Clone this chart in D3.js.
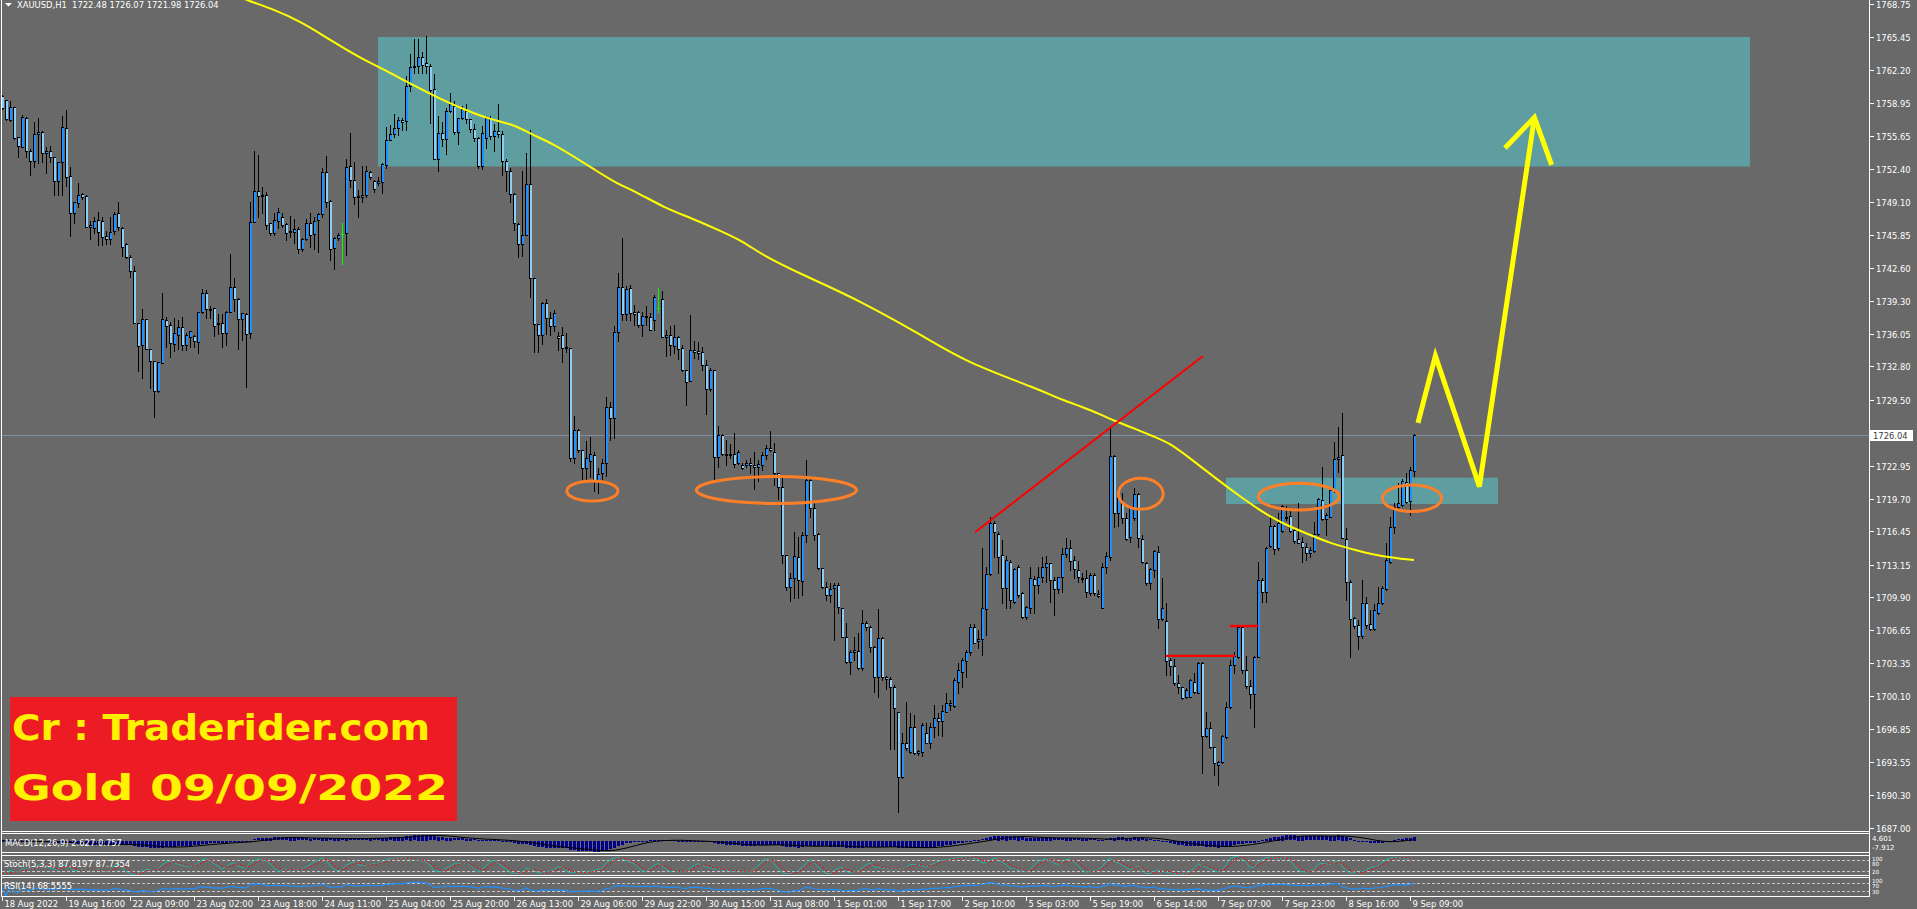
<!DOCTYPE html>
<html><head><meta charset="utf-8">
<script src="https://cdn.jsdelivr.net/npm/d3@7"></script>
<style>
html,body{margin:0;padding:0;background:#696969;overflow:hidden}
svg{display:block}
text{font-family:"DejaVu Sans",sans-serif}
</style></head><body>
<svg id="c" width="1917" height="909"></svg>
<script>
// ---------------- DATA (XAUUSD H1) ----------------
const open = [
1759.63,1759.23,1757.25,1758.54,1755.53,1754.54,1757.45,1754.21,1753.15,1755.86,
1756.06,1753.94,1754.18,1753.55,1751.23,1753.05,1756.42,1751.70,1748.06,1749.05,
1749.88,1749.71,1746.60,1746.51,1747.30,1747.20,1745.75,1745.42,1746.21,1747.99,
1746.54,1744.95,1743.63,1742.24,1737.08,1734.97,1737.48,1734.51,1733.32,1730.41,
1733.18,1737.42,1736.92,1735.03,1735.89,1736.69,1734.90,1735.76,1735.83,1735.27,
1738.18,1740.06,1738.47,1738.61,1736.98,1737.15,1736.16,1738.24,1740.65,1739.46,
1737.48,1737.98,1736.09,1747.17,1750.24,1749.78,1749.78,1747.00,1746.01,1747.20,
1747.60,1746.94,1746.11,1746.18,1746.41,1744.42,1745.48,1747.03,1745.91,1747.33,
1747.93,1752.06,1749.22,1744.52,1745.51,1745.94,1746.01,1752.65,1751.27,1749.61,
1749.58,1749.78,1752.09,1751.20,1751.03,1751.10,1752.75,1755.27,1755.86,1756.42,
1757.24,1757.10,1760.58,1762.46,1762.56,1763.49,1762.85,1762.56,1760.29,1753.42,
1756.00,1755.33,1758.17,1758.66,1756.04,1757.46,1758.17,1757.31,1756.39,1755.47,
1752.71,1755.47,1757.46,1755.68,1756.11,1755.90,1753.13,1752.21,1749.87,1746.89,
1744.97,1745.89,1750.93,1741.57,1737.03,1735.97,1739.12,1737.56,1736.82,1735.82,
1735.97,1734.62,1734.62,1723.70,1726.54,1724.48,1722.78,1723.45,1724.05,1721.43,
1722.21,1723.20,1728.74,1727.71,1736.22,1740.65,1737.99,1740.58,1738.17,1738.24,
1736.93,1737.81,1737.74,1737.46,1738.63,1739.51,1735.68,1735.97,1734.80,1735.68,
1734.62,1732.49,1731.36,1734.44,1734.37,1734.20,1732.92,1730.54,1732.42,1723.81,
1726.04,1724.16,1724.05,1724.16,1723.20,1722.99,1722.99,1723.27,1722.99,1722.85,
1722.99,1723.98,1724.76,1724.34,1722.21,1720.88,1714.11,1710.97,1711.79,1713.88,
1711.56,1716.09,1721.55,1718.74,1716.19,1712.79,1710.97,1710.14,1710.80,1711.13,
1708.82,1705.94,1703.53,1704.52,1704.62,1702.87,1707.40,1706.94,1705.02,1702.04,
1705.84,1701.98,1701.78,1700.98,1698.50,1692.05,1695.43,1694.60,1697.08,1694.50,
1694.60,1696.42,1695.50,1697.08,1697.91,1697.68,1698.57,1699.23,1699.13,1701.55,
1702.54,1703.63,1704.52,1706.94,1705.61,1705.74,1708.72,1712.22,1717.31,1716.19,
1714.11,1710.80,1713.45,1709.48,1712.95,1710.31,1707.93,1708.82,1711.69,1711.13,
1711.96,1712.88,1713.28,1711.63,1710.70,1711.96,1714.21,1714.77,1713.61,1712.62,
1711.79,1711.79,1710.37,1712.12,1710.24,1708.82,1712.88,1713.88,1723.93,1718.31,
1719.23,1717.74,1715.93,1717.74,1720.12,1715.66,1713.35,1711.30,1712.62,1714.44,
1707.73,1707.60,1703.69,1703.10,1701.38,1700.98,1700.06,1700.06,1701.55,1700.45,
1703.43,1696.15,1696.91,1695.10,1693.31,1693.59,1696.02,1699.00,1703.17,1704.02,
1707.00,1702.70,1701.11,1700.32,1704.02,1711.62,1710.47,1715.00,1716.98,1714.77,
1716.52,1717.90,1717.97,1716.58,1715.66,1715.43,1714.93,1714.34,1714.54,1716.19,
1719.56,1717.64,1717.90,1720.55,1723.59,1724.02,1715.66,1711.46,1707.82,1707.16,
1706.07,1709.31,1707.26,1706.73,1708.32,1709.31,1710.70,1713.44,1716.85,1718.90,
1719.06,1721.38,1719.49,1722.48];
const high = [
1759.73,1759.23,1759.17,1758.57,1755.53,1757.75,1757.51,1754.34,1757.08,1757.41,
1756.16,1754.54,1754.67,1753.55,1753.05,1757.65,1758.24,1752.56,1749.08,1750.97,
1750.04,1749.81,1747.27,1747.60,1748.09,1747.66,1746.21,1747.60,1748.16,1749.08,
1746.60,1745.08,1743.86,1742.77,1737.08,1738.54,1737.48,1734.51,1733.32,1733.25,
1740.06,1737.75,1737.25,1737.58,1737.42,1737.75,1736.09,1736.36,1735.89,1738.18,
1740.52,1740.39,1738.84,1738.61,1738.01,1738.01,1738.34,1743.93,1741.55,1739.56,
1738.08,1738.08,1749.08,1754.21,1753.78,1750.60,1750.14,1747.07,1747.99,1748.52,
1747.99,1747.00,1747.73,1747.40,1746.60,1745.51,1747.46,1747.99,1747.66,1748.06,
1752.46,1753.65,1749.32,1745.61,1746.01,1747.00,1753.35,1756.00,1753.08,1750.31,
1752.69,1752.69,1752.16,1751.30,1751.56,1752.95,1756.59,1756.75,1757.80,1757.58,
1757.46,1761.57,1763.77,1765.26,1765.26,1763.98,1765.61,1762.77,1761.78,1757.67,
1757.03,1758.45,1759.94,1759.09,1757.46,1758.66,1758.88,1757.31,1756.89,1755.54,
1756.68,1757.67,1757.67,1756.89,1758.80,1756.11,1753.34,1752.50,1750.01,1747.03,
1752.14,1753.95,1756.25,1741.57,1737.03,1739.23,1739.51,1738.24,1738.45,1736.22,
1736.75,1736.11,1734.62,1727.88,1726.64,1724.48,1725.40,1725.83,1724.34,1722.74,
1723.63,1729.73,1729.30,1736.82,1742.07,1745.54,1740.79,1740.93,1738.88,1738.31,
1738.17,1738.81,1738.10,1739.87,1740.58,1740.29,1736.46,1736.82,1736.96,1735.82,
1734.98,1732.49,1737.88,1735.33,1735.18,1734.69,1733.48,1732.67,1732.42,1726.89,
1726.11,1725.54,1725.12,1726.25,1724.48,1723.27,1723.56,1723.70,1724.34,1723.56,
1724.34,1725.05,1726.39,1725.22,1722.21,1721.88,1714.11,1712.29,1716.42,1715.93,
1716.42,1723.53,1721.81,1719.23,1716.26,1712.79,1711.46,1711.30,1711.36,1711.36,
1708.82,1707.33,1704.69,1705.94,1706.34,1708.65,1707.60,1707.07,1705.08,1708.72,
1705.94,1702.11,1701.98,1701.22,1698.50,1696.42,1699.56,1698.41,1698.24,1694.77,
1697.41,1697.48,1697.41,1699.23,1698.41,1699.23,1700.39,1699.73,1701.88,1703.36,
1703.86,1704.69,1707.27,1707.27,1706.67,1714.77,1712.95,1717.91,1717.51,1716.42,
1715.60,1714.01,1713.61,1712.79,1713.12,1710.47,1709.05,1712.88,1712.02,1712.95,
1713.94,1714.01,1713.28,1711.96,1711.96,1714.77,1715.76,1715.60,1714.01,1713.55,
1712.29,1712.62,1712.29,1712.35,1710.64,1713.28,1714.44,1726.84,1724.03,1720.22,
1720.22,1718.24,1718.97,1720.72,1720.22,1716.09,1713.45,1712.79,1714.61,1715.00,
1711.79,1709.38,1703.86,1703.76,1702.20,1701.05,1700.88,1701.78,1702.37,1703.53,
1703.53,1698.57,1697.58,1695.10,1693.69,1696.25,1699.56,1703.69,1704.52,1707.07,
1707.07,1704.09,1701.71,1704.09,1713.44,1711.79,1714.93,1717.97,1717.08,1718.24,
1719.06,1718.96,1718.63,1716.91,1719.23,1715.92,1715.26,1714.93,1717.41,1719.72,
1722.80,1718.24,1720.72,1725.34,1726.83,1728.15,1716.75,1711.62,1707.92,1707.66,
1711.62,1709.97,1708.65,1709.25,1710.96,1711.03,1715.26,1717.84,1719.23,1721.28,
1721.61,1722.27,1722.80,1726.07];
const low = [
1758.31,1757.25,1757.18,1755.33,1753.61,1754.54,1753.55,1751.76,1752.62,1753.02,
1753.12,1751.96,1753.12,1749.84,1749.84,1749.84,1750.70,1745.78,1747.07,1748.65,
1749.38,1746.60,1745.45,1746.08,1744.85,1744.85,1744.95,1744.95,1745.94,1746.34,
1743.76,1743.56,1741.71,1737.15,1732.39,1731.63,1734.51,1730.64,1727.76,1730.31,
1733.18,1734.77,1733.78,1734.37,1734.57,1734.44,1734.44,1734.77,1734.70,1734.18,
1738.08,1737.58,1737.58,1735.86,1736.03,1734.70,1734.94,1738.24,1738.34,1734.51,
1735.43,1730.80,1735.60,1747.17,1747.66,1747.99,1746.41,1745.88,1745.88,1746.51,
1746.67,1745.35,1745.65,1745.02,1744.09,1744.29,1745.35,1744.69,1744.49,1744.19,
1747.66,1748.65,1743.37,1742.44,1745.35,1742.97,1743.83,1750.64,1748.92,1747.66,
1749.15,1749.65,1751.43,1750.14,1750.80,1749.98,1752.46,1755.27,1755.60,1755.76,
1756.25,1756.25,1760.15,1761.92,1761.92,1761.92,1761.92,1756.96,1753.42,1752.21,
1754.65,1753.90,1758.02,1755.90,1754.90,1757.31,1756.96,1756.07,1755.19,1752.50,
1752.35,1754.48,1755.36,1754.20,1755.54,1751.82,1750.22,1749.16,1746.32,1743.66,
1743.77,1745.89,1739.66,1734.27,1734.20,1735.04,1736.04,1735.97,1736.32,1734.44,
1733.20,1734.27,1723.45,1723.20,1724.33,1721.43,1721.68,1721.86,1720.44,1720.26,
1721.43,1721.93,1725.47,1725.68,1735.33,1737.45,1737.38,1737.45,1736.89,1736.68,
1735.86,1736.89,1736.46,1736.46,1738.17,1735.68,1733.84,1733.98,1734.09,1733.56,
1732.31,1729.02,1731.36,1733.63,1733.56,1732.42,1728.06,1730.37,1721.57,1722.85,
1723.98,1723.00,1723.70,1722.85,1723.10,1722.64,1722.85,1722.28,1720.61,1721.43,
1722.57,1723.63,1724.41,1721.07,1719.65,1713.28,1710.64,1709.58,1709.81,1709.81,
1710.14,1715.43,1717.84,1715.60,1712.69,1710.80,1709.65,1709.48,1705.68,1708.32,
1705.94,1703.36,1702.31,1703.69,1702.77,1702.70,1706.67,1704.52,1700.55,1700.06,
1701.71,1700.79,1694.84,1694.84,1688.65,1691.95,1694.77,1694.50,1694.37,1694.27,
1694.17,1695.43,1694.93,1696.09,1696.26,1696.16,1698.57,1698.74,1699.07,1700.39,
1700.98,1702.04,1704.19,1705.35,1704.85,1704.19,1706.17,1712.12,1713.94,1712.29,
1709.32,1708.82,1708.82,1709.32,1709.98,1707.83,1707.73,1708.32,1708.32,1710.31,
1711.46,1711.46,1709.48,1708.16,1710.31,1710.47,1713.94,1712.62,1711.79,1711.46,
1711.46,1709.98,1710.14,1710.14,1709.91,1708.82,1712.35,1713.61,1716.85,1716.98,
1717.25,1715.60,1715.43,1717.58,1714.93,1713.35,1711.13,1710.70,1711.96,1706.84,
1707.66,1702.20,1702.20,1701.21,1700.39,1699.79,1699.89,1699.99,1700.39,1700.39,
1692.52,1696.09,1694.93,1692.29,1691.30,1693.44,1695.92,1698.90,1702.43,1703.86,
1702.43,1700.88,1698.90,1697.02,1704.02,1709.48,1709.48,1714.93,1714.21,1714.60,
1716.42,1717.57,1716.42,1715.26,1715.26,1713.44,1713.61,1713.87,1714.44,1716.09,
1717.57,1716.09,1717.84,1720.39,1722.37,1715.76,1709.64,1703.96,1706.83,1704.75,
1705.84,1706.83,1706.67,1706.67,1708.25,1709.25,1710.63,1713.35,1716.25,1718.63,
1718.96,1719.29,1718.07,1721.98];
const close = [
1758.41,1757.32,1758.54,1755.43,1754.67,1757.51,1754.21,1753.15,1755.86,1756.06,
1753.94,1754.14,1753.55,1751.23,1753.05,1756.52,1751.63,1748.06,1749.08,1749.78,
1749.65,1746.67,1746.84,1747.20,1746.11,1745.68,1745.42,1746.11,1747.89,1746.60,
1744.69,1743.63,1742.24,1737.15,1734.87,1737.48,1734.51,1733.32,1730.41,1733.25,
1737.48,1736.79,1735.17,1736.09,1736.75,1734.97,1735.89,1736.29,1735.30,1738.18,
1740.13,1738.47,1738.51,1736.85,1737.08,1736.16,1738.24,1740.65,1739.46,1737.48,
1738.08,1736.03,1747.10,1750.18,1749.71,1749.84,1746.87,1746.01,1747.30,1748.09,
1746.87,1746.08,1746.21,1746.41,1744.42,1745.45,1747.00,1745.88,1747.20,1747.93,
1752.06,1749.12,1744.49,1745.51,1745.81,1745.94,1752.56,1751.27,1749.65,1749.71,
1749.81,1752.16,1751.63,1750.37,1751.17,1752.85,1755.23,1755.86,1756.42,1757.25,
1757.00,1760.61,1762.49,1762.63,1763.49,1762.70,1762.56,1760.22,1753.42,1756.00,
1755.33,1758.17,1758.80,1756.04,1757.46,1758.31,1757.31,1756.39,1755.47,1752.71,
1755.97,1757.46,1755.68,1756.11,1755.83,1753.13,1752.14,1749.87,1747.03,1744.97,
1745.89,1750.93,1741.54,1737.03,1735.97,1739.05,1737.56,1736.82,1738.06,1735.61,
1734.62,1734.69,1723.77,1726.46,1724.51,1722.78,1723.75,1724.16,1721.43,1722.14,
1723.27,1728.74,1727.71,1736.22,1740.65,1737.99,1740.44,1738.10,1737.99,1736.93,
1737.81,1737.67,1736.46,1739.66,1738.63,1735.68,1735.97,1734.90,1735.68,1734.55,
1732.49,1731.25,1734.44,1734.27,1734.09,1732.92,1730.54,1732.49,1723.81,1726.04,
1724.16,1724.05,1724.16,1723.10,1724.34,1722.71,1723.27,1722.99,1722.85,1723.13,
1723.98,1724.76,1724.51,1722.21,1720.86,1714.11,1710.97,1711.79,1714.01,1711.63,
1716.09,1721.55,1718.74,1716.09,1712.79,1710.90,1710.14,1710.70,1711.13,1708.92,
1706.01,1703.53,1704.52,1704.69,1702.87,1707.40,1706.94,1705.02,1702.04,1705.84,
1701.98,1701.81,1700.98,1698.90,1692.12,1695.43,1694.93,1697.02,1694.50,1694.70,
1697.25,1695.50,1697.08,1697.91,1697.68,1698.67,1699.40,1699.46,1701.71,1702.70,
1703.69,1704.52,1707.00,1705.41,1705.81,1708.82,1712.22,1717.31,1716.42,1713.94,
1710.80,1713.61,1709.65,1712.69,1710.14,1707.99,1708.92,1711.79,1711.13,1711.96,
1712.95,1713.28,1711.63,1710.70,1711.89,1714.21,1714.77,1713.55,1712.69,1711.89,
1711.69,1710.47,1712.12,1710.31,1710.04,1712.88,1714.01,1723.93,1718.31,1719.73,
1717.74,1715.66,1718.74,1720.12,1715.76,1713.45,1711.30,1712.69,1714.54,1707.73,
1708.82,1703.63,1703.10,1701.38,1700.98,1699.89,1700.72,1701.71,1700.55,1703.36,
1696.15,1696.91,1695.10,1693.44,1693.53,1696.15,1699.00,1703.20,1704.09,1707.00,
1702.70,1701.11,1700.32,1704.02,1711.62,1710.47,1714.77,1716.98,1714.67,1717.31,
1718.96,1717.74,1716.52,1715.53,1715.33,1714.93,1714.34,1714.60,1716.19,1719.63,
1717.64,1718.07,1720.55,1723.59,1723.79,1715.76,1711.46,1707.72,1707.06,1706.07,
1709.31,1707.16,1706.73,1708.65,1709.31,1710.80,1713.61,1716.91,1718.90,1719.23,
1721.48,1719.39,1722.53,1726.04];

// moving average (yellow) read at sampled bars: [bar index, price]
const maIdx = [55, 61, 67, 75, 82, 90, 95, 102, 109, 116, 122, 128, 132, 138, 143, 148, 154, 158, 166, 172, 178, 185, 190, 200, 214, 232, 241, 259, 265, 270, 275, 278, 283, 288, 292, 297, 304, 309, 315, 320, 326, 332, 339, 345, 353];
const maVal = [1770.2, 1769.15, 1768.36, 1766.97, 1765.18, 1763.30, 1762.35, 1760.86, 1759.44, 1758.20, 1757.32, 1756.79, 1755.90, 1754.84, 1753.60, 1752.36, 1750.87, 1750.24, 1748.46, 1747.58, 1746.52, 1745.28, 1743.86, 1741.91, 1739.45, 1735.43, 1733.25, 1730.57, 1729.48, 1728.81, 1727.99, 1727.42, 1726.67, 1725.84, 1725.18, 1723.70, 1721.54, 1720.06, 1718.40, 1717.25, 1716.26, 1715.27, 1714.53, 1713.94, 1713.61];

// price axis tick labels
const yTicks = [1768.75, 1765.45, 1762.20, 1758.95, 1755.65, 1752.40, 1749.10, 1745.85, 1742.60, 1739.30, 1736.05, 1732.80, 1729.50, 1722.95, 1719.70, 1716.45, 1713.15, 1709.90, 1706.65, 1703.35, 1700.10, 1696.85, 1693.55, 1690.30, 1687.00];
// time axis labels (every 16 bars)
const timeLabels = ["18 Aug 2022","19 Aug 16:00","22 Aug 09:00","23 Aug 02:00","23 Aug 18:00","24 Aug 11:00","25 Aug 04:00","25 Aug 20:00","26 Aug 13:00","29 Aug 06:00","29 Aug 22:00","30 Aug 15:00","31 Aug 08:00","1 Sep 01:00","1 Sep 17:00","2 Sep 10:00","5 Sep 03:00","5 Sep 19:00","6 Sep 14:00","7 Sep 07:00","7 Sep 23:00","8 Sep 16:00","9 Sep 09:00"];
const timeIdx = [0,16,32,48,64,80,96,112,128,144,160,176,192,208,224,240,256,272,288,304,320,336,352];

// drawn objects (in bar index / price units)
const zones = [ {i0:94, i1:437, p0:1765.48, p1:1752.63}, {i0:306, i1:374, p0:1721.77, p1:1719.16} ];
const trendLine = [[243.25,1716.36],[300.25,1733.84]];
const hLines = [ [[291,1704.10],[308.25,1704.10]], [[307,1707.06],[314.1,1707.06]] ];
const ellipses = [
 {i:147.6, p:1720.45, ri:6.4, rp:0.99},
 {i:193.6, p:1720.55, ri:20.0, rp:1.34},
 {i:284.7, p:1720.17, ri:5.6, rp:1.54},
 {i:324.2, p:1719.89, ri:10.1, rp:1.32},
 {i:352.5, p:1719.73, ri:7.4, rp:1.32}
];
const arrowPath = [[354,1727.2],[358.35,1733.86],[369.35,1720.89],[383.1,1757.5]];
const arrowHead = [[375.75,1754.47],[383.1,1757.5],[387.4,1752.79]];
const lastPrice = 1726.04;

// ---------------- DRAWING ----------------
const W=1917, H=909;
const svg = d3.select('#c');
const defs = svg.append('defs');
defs.append('clipPath').attr('id','clipMain').append('rect').attr('x',2).attr('y',0).attr('width',1867).attr('height',831);

svg.append('rect').attr('width',W).attr('height',H).attr('fill','#696969');

const x = d3.scaleLinear().domain([0,466.75]).range([2,1869]);
const y = d3.scaleLinear().domain([1687.00,1768.75]).range([828.3,4]);
const idx = d3.range(open.length);

const main = svg.append('g').attr('clip-path','url(#clipMain)');

// zones
main.selectAll('rect.zone').data(zones).join('rect').attr('class','zone')
  .attr('x',d=>x(d.i0)).attr('y',d=>y(d.p0))
  .attr('width',d=>x(d.i1)-x(d.i0)).attr('height',d=>y(d.p1)-y(d.p0))
  .attr('fill','#5f9ea0');

// last price line
main.append('line').attr('x1',0).attr('x2',1869)
  .attr('y1',Math.round(y(lastPrice))+0.5).attr('y2',Math.round(y(lastPrice))+0.5)
  .attr('stroke','#7f8fa3').attr('stroke-width',1);

// candles
const cg = main.append('g').attr('shape-rendering','crispEdges');
idx.forEach(i=>{
  const cx = Math.round(x(i));
  const yh = Math.round(y(high[i])), yl = Math.round(y(low[i]));
  const yo = y(open[i]), yc = y(close[i]);
  const top = Math.round(Math.min(yo,yc)), bot = Math.round(Math.max(yo,yc));
  if (open[i] === close[i]) {
    cg.append('rect').attr('x',cx).attr('y',yh).attr('width',1).attr('height',yl-yh+1).attr('fill','#00ff00');
    cg.append('rect').attr('x',cx-1).attr('y',top).attr('width',3).attr('height',1).attr('fill','#00ff00');
    return;
  }
  cg.append('rect').attr('x',cx).attr('y',Math.min(yh,top)).attr('width',1).attr('height',Math.max(yl,bot)-Math.min(yh,top)+1).attr('fill','#000');
  cg.append('rect').attr('x',cx-1).attr('y',top).attr('width',3).attr('height',Math.max(bot-top+1,2)).attr('fill','#000');
  if (bot-top >= 2) {
    cg.append('rect').attr('x',cx).attr('y',top+1).attr('width',2).attr('height',bot-top-1)
      .attr('fill', close[i] > open[i] ? '#1e90ff' : '#87cefa');
  }
});

// moving average
const maPts = maIdx.map((d,k)=>[d,maVal[k]]);
main.append('path').datum(maPts)
  .attr('d', d3.line().x(d=>x(d[0])).y(d=>y(d[1])).curve(d3.curveBasis))
  .attr('fill','none').attr('stroke','#ffff00').attr('stroke-width',2);

// red trend line + horizontal lines
const ln = d3.line().x(d=>x(d[0])).y(d=>y(d[1]));
main.append('path').datum(trendLine).attr('d',ln).attr('stroke','#ff0000').attr('stroke-width',2).attr('fill','none');
hLines.forEach(h=>main.append('path').datum(h).attr('d',ln).attr('stroke','#ff0000').attr('stroke-width',2.4).attr('fill','none'));

// ellipses
main.selectAll('ellipse').data(ellipses).join('ellipse')
  .attr('cx',d=>x(d.i)).attr('cy',d=>y(d.p))
  .attr('rx',d=>x(d.ri)-x(0)).attr('ry',d=>y(0)-y(d.rp))
  .attr('fill','none').attr('stroke','#ff7f27').attr('stroke-width',3);

// yellow arrow
main.append('path').datum(arrowPath).attr('d',ln).attr('fill','none').attr('stroke','#ffff00')
  .attr('stroke-width',5).attr('stroke-linejoin','miter').attr('stroke-linecap','butt');
main.append('path').datum(arrowHead).attr('d',ln).attr('fill','none').attr('stroke','#ffff00')
  .attr('stroke-width',5).attr('stroke-linejoin','miter').attr('stroke-linecap','butt');

// ---------- sub panels (indicators derived from the candle data) ----------
function ema(arr,n){const k=2/(n+1);let p=arr[0];return arr.map((v,i)=>{p=i===0?v:v*k+p*(1-k);return p;});}
const e12=ema(close,12), e26=ema(close,26);
const macd=close.map((c,i)=>e12[i]-e26[i]);
const sig=macd.map((v,i)=>d3.mean(macd.slice(Math.max(0,i-8),i+1)));
const num=[],den=[];
idx.forEach(i=>{const s=Math.max(0,i-4);const lo=d3.min(low.slice(s,i+1)),hi=d3.max(high.slice(s,i+1));num.push(close[i]-lo);den.push(hi-lo);});
const stK=idx.map(i=>{const s=Math.max(0,i-2);const d=d3.sum(den.slice(s,i+1));return d?100*d3.sum(num.slice(s,i+1))/d:50;});
const stD=idx.map(i=>d3.mean(stK.slice(Math.max(0,i-2),i+1)));
const rsi=[50];let ag=0,al=0;
for(let i=1;i<close.length;i++){const ch=close[i]-close[i-1];const g=Math.max(ch,0),l=Math.max(-ch,0);
  if(i<=14){ag=(ag*(i-1)+g)/i;al=(al*(i-1)+l)/i;}else{ag=(ag*13+g)/14;al=(al*13+l)/14;}
  rsi.push(al===0?100:100-100/(1+ag/al));}

const panels = [{t:833.5,b:852.5},{t:855.5,b:875.5},{t:877.5,b:896.5}];
const yM = d3.scaleLinear().domain([-7.912,4.601]).range([852,834]);
const yS = d3.scaleLinear().domain([0,100]).range([875,856]);
const yR = d3.scaleLinear().domain([0,100]).range([896,878]);
panels.forEach((p,k)=>defs.append('clipPath').attr('id','cp'+k).append('rect').attr('x',2).attr('y',p.t+0.5).attr('width',1867).attr('height',p.b-p.t-1));

const gm = svg.append('g').attr('clip-path','url(#cp0)');
gm.append('g').attr('shape-rendering','crispEdges').selectAll('rect').data(idx).join('rect')
  .attr('x',i=>Math.round(x(i))-1).attr('width',3)
  .attr('y',i=>Math.round(Math.min(yM(0),yM(macd[i])))).attr('height',i=>Math.max(1,Math.round(Math.abs(yM(macd[i])-yM(0)))))
  .attr('fill','#00008b');
gm.append('path').datum(idx).attr('d',d3.line().x(i=>x(i)).y(i=>yM(sig[i]))).attr('fill','none').attr('stroke','#000').attr('stroke-width',1);

const gs = svg.append('g').attr('clip-path','url(#cp1)');
[80,20].forEach(v=>gs.append('line').attr('x1',2).attr('x2',1869).attr('y1',Math.round(yS(v))+0.5).attr('y2',Math.round(yS(v))+0.5).attr('stroke','#c8c8c8').attr('stroke-dasharray','3,2'));
gs.append('path').datum(idx).attr('d',d3.line().x(i=>x(i)).y(i=>yS(stK[i]))).attr('fill','none').attr('stroke','#20b2aa').attr('stroke-width',1);
gs.append('path').datum(idx).attr('d',d3.line().x(i=>x(i)).y(i=>yS(stD[i]))).attr('fill','none').attr('stroke','#ff0000').attr('stroke-width',1).attr('stroke-dasharray','2,2');

const gr = svg.append('g').attr('clip-path','url(#cp2)');
[70,30].forEach(v=>gr.append('line').attr('x1',2).attr('x2',1869).attr('y1',Math.round(yR(v))+0.5).attr('y2',Math.round(yR(v))+0.5).attr('stroke','#c8c8c8').attr('stroke-dasharray','3,2'));
gr.append('path').datum(idx).attr('d',d3.line().x(i=>x(i)).y(i=>yR(rsi[i]))).attr('fill','none').attr('stroke','#1e90ff').attr('stroke-width',1.2);

// frames
const fr = svg.append('g').attr('stroke','#ffffff').attr('stroke-width',1).attr('fill','none').attr('shape-rendering','crispEdges');
fr.append('line').attr('x1',1.5).attr('x2',1.5).attr('y1',0).attr('y2',897);
fr.append('line').attr('x1',1869.5).attr('x2',1869.5).attr('y1',0).attr('y2',897);
fr.append('line').attr('x1',1.5).attr('x2',1869.5).attr('y1',831.5).attr('y2',831.5);
panels.forEach(p=>fr.append('rect').attr('x',1.5).attr('y',p.t).attr('width',1868).attr('height',p.b-p.t));

// price axis
const ax = svg.append('g');
yTicks.forEach(v=>{
  const yy = Math.round(y(v))+0.5;
  ax.append('line').attr('x1',1869.5).attr('x2',1873.5).attr('y1',yy).attr('y2',yy).attr('stroke','#fff').attr('shape-rendering','crispEdges');
  ax.append('text').attr('x',1876).attr('y',yy).attr('dy','0.36em').attr('fill','#fff').attr('font-size',8.4).text(v.toFixed(2));
});
const ly = Math.round(y(lastPrice))+0.5;
ax.append('rect').attr('x',1870).attr('y',ly-5.5).attr('width',43).attr('height',11).attr('fill','#fff');
ax.append('text').attr('x',1873).attr('y',ly).attr('dy','0.36em').attr('fill','#3a3a3a').attr('font-size',8.4).text(lastPrice.toFixed(2));

// sub-panel scale labels (kept small so they stack inside the thin panels)
const sl = [["4.601",838.5,7],["-7.912",847.5,7],["100",858.6,5.6],["80",864.4,5.6],["20",871.6,5.6],["100",880.6,5.6],["70",886.2,5.6],["30",892.2,5.6]];
sl.forEach(s=>ax.append('text').attr('x',1872).attr('y',s[1]).attr('dy','0.36em').attr('fill','#fff').attr('font-size',s[2]).text(s[0]));

// time axis
timeIdx.forEach((ti,k)=>{
  const tx = Math.round(x(ti))+0.5;
  ax.append('line').attr('x1',tx).attr('x2',tx).attr('y1',896.5).attr('y2',900.5).attr('stroke','#fff').attr('shape-rendering','crispEdges');
  ax.append('text').attr('x',tx+2).attr('y',907).attr('fill','#fff').attr('font-size',8.4).text(timeLabels[k]);
});

// panel titles
ax.append('text').attr('x',5).attr('y',845.7).attr('fill','#fff').attr('font-size',8.4).text('MACD(12,26,9) 2.627 0.757');
ax.append('text').attr('x',4).attr('y',867.3).attr('fill','#fff').attr('font-size',8.4).text('Stoch(5,3,3) 87.8197 87.7354');
ax.append('text').attr('x',4).attr('y',888.8).attr('fill','#fff').attr('font-size',8.4).text('RSI(14) 68.5555');

// header
ax.append('path').attr('d','M5,3 L12,3 L8.5,6.5 Z').attr('fill','#fff');
ax.append('text').attr('x',17).attr('y',7.6).attr('fill','#fff').attr('font-size',8.4).attr('xml:space','preserve')
  .text('XAUUSD,H1  1722.48 1726.07 1721.98 1726.04');

// red banner
svg.append('rect').attr('x',10).attr('y',697).attr('width',447).attr('height',124).attr('fill','#ed1c24');
svg.append('text').attr('x',12).attr('y',740).attr('fill','#fff200').attr('font-size',35).attr('font-weight','bold')
  .attr('textLength',418).attr('lengthAdjust','spacingAndGlyphs').text('Cr : Traderider.com');
svg.append('text').attr('x',12).attr('y',800).attr('fill','#fff200').attr('font-size',35).attr('font-weight','bold')
  .attr('textLength',436).attr('lengthAdjust','spacingAndGlyphs').text('Gold 09/09/2022');
</script>
</body></html>
